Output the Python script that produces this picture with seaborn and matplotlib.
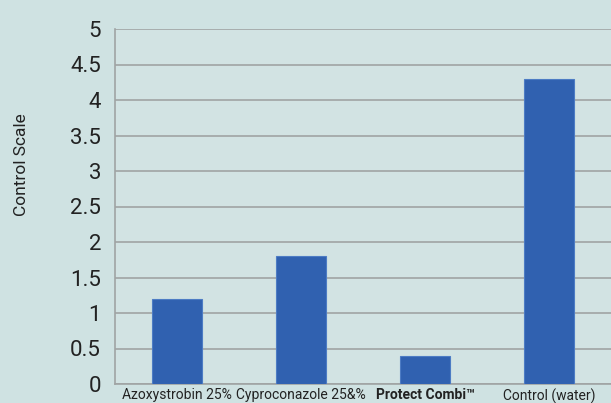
import numpy as np
import pandas as pd
import matplotlib.pyplot as plt
import seaborn as sns

treatments = ["Azoxystrobin 25%", "Cyproconazole 25&%", "Protect Combi\u2122", "Control (water)"]
scores = [1.2, 1.8, 0.4, 4.3]
yticks = [0, 0.5, 1, 1.5, 2, 2.5, 3, 3.5, 4, 4.5, 5]
ytick_labels = ["0", "0.5", "1", "1.5", "2", "2.5", "3", "3.5", "4", "4.5", "5"]

df = pd.DataFrame({"Treatment": treatments, "Score": scores})

sns.set_style("white")
plt.rcParams["font.family"] = ["Roboto", "DejaVu Sans"]

bg = "#cfe2e2"
fig = plt.figure(figsize=(6.11, 4.03), dpi=100)
fig.patch.set_facecolor(bg)
ax = fig.add_axes([115/611, 1-384/403, 1-115/611, (384-29)/403])
ax.set_facecolor("#d2e3e3")

sns.barplot(data=df, x="Treatment", y="Score", color="#3061b0", width=0.4,
            saturation=1, edgecolor="#4d7cc4", linewidth=0.8, ax=ax, zorder=3)

ax.set_xlim(-0.5, 3.41)
ax.set_ylim(0, 5)
ax.set_yticks(yticks)
ax.set_yticklabels(ytick_labels, fontsize=16, color="#222222")
ax.yaxis.grid(True, color="#a0a4a4", linewidth=1.2, zorder=0)
ax.tick_params(axis="y", length=7, color="#a0a4a4", width=1.2, pad=3)
ax.tick_params(axis="x", length=0, pad=3)
ax.set_xticks([0, 1, 2, 3])
ax.set_xticklabels(treatments, fontsize=10, color="#222222")
for lab in ax.get_xticklabels():
    if "Combi" in lab.get_text():
        lab.set_fontweight("bold")
ax.set_xticks([-0.5, 0.5, 1.5, 2.5, 3.5], minor=True)
ax.tick_params(axis="x", which="minor", length=4, color="#a0a4a4", width=1)
ax.set_xlabel("")
ax.set_ylabel("Control Scale", fontsize=12.5, color="#222222")
ax.yaxis.set_label_coords(-0.174, 0.617)

for s in ["top", "right"]:
    ax.spines[s].set_visible(False)
for s in ["left", "bottom"]:
    ax.spines[s].set_color("#a0a4a4")
    ax.spines[s].set_linewidth(1.2)

fig.savefig("out.png", dpi=100, facecolor=bg)
